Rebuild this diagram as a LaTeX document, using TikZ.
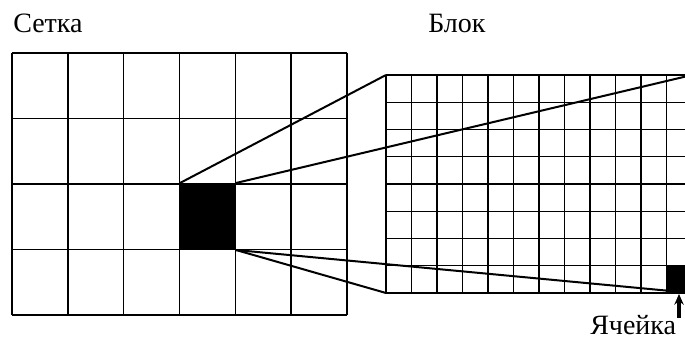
\documentclass[tikz,border=0pt]{standalone}
\usepackage{fontspec}
\setmainfont{Liberation Serif}
\usetikzlibrary{arrows.meta}

\tikzset{
    gridline/.style={line width=1.1pt, black},
    rayline/.style={line width=1.5pt, black},
    label/.style={inner sep=0pt, font=\fontsize{21}{24}\selectfont}
}

\begin{document}
\begin{tikzpicture}[x=0.75pt, y=-0.75pt, >=Stealth]

\useasboundingbox (0,0) rectangle (685,342);

% ---------------- СЕТКА ----------------

\node[
    label,
    anchor=base west
] (setka) at (13,33) {Сетка};

% Выделенный блок
\fill[black] (180,183) rectangle (236,250);

\foreach \i in {0,...,6} {
    \draw[gridline] ({12+55.83*\i},53) -- ({12+55.83*\i},315);
}
\foreach \j in {0,...,4} {
    \draw[gridline] (12,{53+65.5*\j}) -- (347,{53+65.5*\j});
}

\coordinate (c-nw) at (180,183);
\coordinate (c-ne) at (236,183);
\coordinate (c-se) at (236,250);

% ---------------- БЛОК ----------------

\node[
    label,
    anchor=base west
] (blok) at (428,33) {Блок};

% Ячейка
\fill[black] (666.5,265.75) rectangle (692,293);

\foreach \i in {0,...,12} {
    \draw[gridline] ({386+25.5*\i},75) -- ({386+25.5*\i},293);
}
\foreach \j in {0,...,8} {
    \draw[gridline] (386,{75+27.25*\j}) -- (692,{75+27.25*\j});
}

\coordinate (b-nw) at (386,75);
\coordinate (b-ne) at (692,75);
\coordinate (b-sw) at (386,293);
\coordinate (b-se) at (692,293);

% Лучи
\draw[rayline] (c-nw) -- (b-nw);
\draw[rayline] (c-ne) -- (b-ne);
\draw[rayline] (c-se) -- (b-sw);
\draw[rayline] (c-se) -- (b-se);

% Подпись ячейки
\node[
    label,
    anchor=base west
] (yacheyka) at (590,334) {Ячейка};

\coordinate (arr-top) at (679,294);
\draw[
    -{Stealth[length=8pt, width=7pt]},
    line width=2.4pt
] (679,318) -- (arr-top);

\end{tikzpicture}
\end{document}
